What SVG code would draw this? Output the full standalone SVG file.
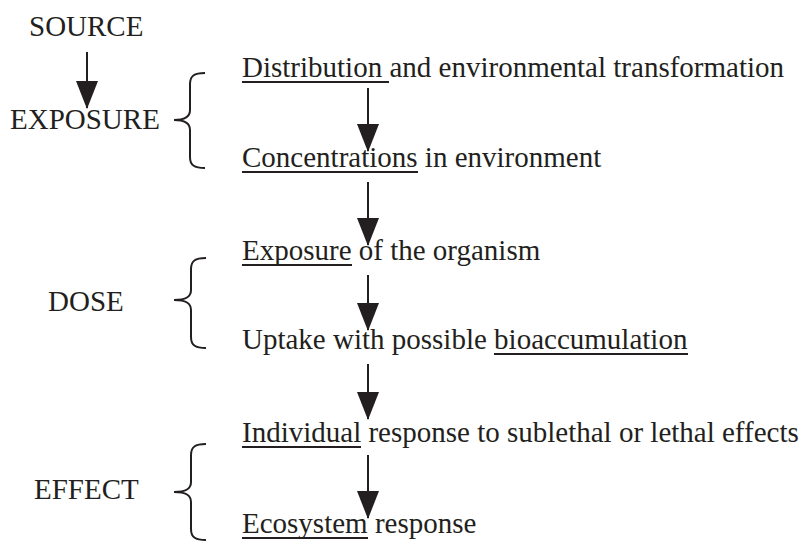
<svg xmlns="http://www.w3.org/2000/svg" width="808" height="550" viewBox="0 0 808 550">
  <style>
    text { font-family: "Liberation Serif", "Times New Roman", serif; font-size: 29px; fill: #231f20; }
    .ul { stroke: #231f20; stroke-width: 2; }
    .arrow { stroke: #231f20; stroke-width: 2; fill: none; marker-end: url(#head); }
    .brace { stroke: #231f20; stroke-width: 2; fill: none; }
  </style>
  <defs>
    <!-- solid triangular arrowhead, tip at the path end -->
    <marker id="head" markerUnits="userSpaceOnUse" markerWidth="28" markerHeight="22" viewBox="0 0 28 22" refX="27" refY="11" orient="auto">
      <path d="M0,0 L28,11 L0,22 Z" fill="#231f20"/>
    </marker>
  </defs>
  <rect width="808" height="550" fill="#ffffff"/>

  <!-- stage labels -->
  <g id="source"><text x="29" y="36">SOURCE</text></g>
  <g id="exposure"><text x="10" y="129">EXPOSURE</text></g>
  <g id="dose"><text x="48" y="311">DOSE</text></g>
  <g id="effect"><text x="34" y="499">EFFECT</text></g>

  <!-- braces grouping the steps -->
  <g id="brace-exposure"><path class="brace" d="M205,73 C194,73 190,76 190,84 L190,110 C190,117 185,120 174,120 C185,120 190,123 190,130 L190,157 C190,165 194,168 205,168"/></g>
  <g id="brace-dose"><path class="brace" d="M206,258 C195,258 191,261 191,269 L191,290 C191,297 186,300 174,300 C186,300 191,303 191,310 L191,337 C191,345 195,348 206,348"/></g>
  <g id="brace-effect"><path class="brace" d="M206,444 C195,444 191,447 191,455 L191,482 C191,489 186,492 174,492 C186,492 191,495 191,502 L191,529 C191,537 195,540 206,540"/></g>

  <!-- steps -->
  <g id="distribution">
    <text x="242" y="77">Distribution and environmental transformation</text>
    <line class="ul" x1="242" y1="82" x2="389" y2="82"/>
  </g>
  <g id="concentrations">
    <text x="242" y="167">Concentrations in environment</text>
    <line class="ul" x1="242" y1="172" x2="418" y2="172"/>
  </g>
  <g id="organism-exposure">
    <text x="242" y="260">Exposure of the organism</text>
    <line class="ul" x1="242" y1="265" x2="352" y2="265"/>
  </g>
  <g id="uptake">
    <text x="242" y="349">Uptake with possible bioaccumulation</text>
    <line class="ul" x1="494" y1="354" x2="688" y2="354"/>
  </g>
  <g id="individual">
    <text x="242" y="442">Individual response to sublethal or lethal effects</text>
    <line class="ul" x1="242" y1="447" x2="361" y2="447"/>
  </g>
  <g id="ecosystem">
    <text x="242" y="533">Ecosystem response</text>
    <line class="ul" x1="242" y1="538" x2="368" y2="538"/>
  </g>

  <!-- connectors -->
  <g id="connectors">
    <path class="arrow" d="M87,52 L87,108"/>
    <path class="arrow" d="M368,88 L368,151"/>
    <path class="arrow" d="M368,182 L368,245"/>
    <path class="arrow" d="M368,275 L368,330"/>
    <path class="arrow" d="M368,364 L368,419"/>
    <path class="arrow" d="M368,455 L368,518"/>
  </g>
</svg>
